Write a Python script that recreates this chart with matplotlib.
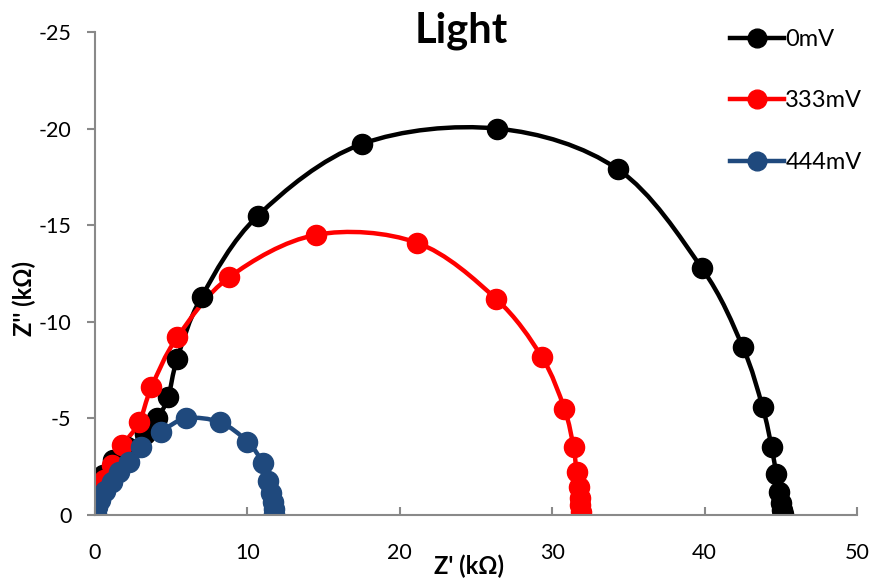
import numpy as np
import matplotlib
matplotlib.use("Agg")
import matplotlib.pyplot as plt
from matplotlib.path import Path
from matplotlib.patches import PathPatch
from matplotlib.lines import Line2D

plt.rcParams['font.family'] = ['Lato', 'DejaVu Sans']
plt.rcParams['axes.unicode_minus'] = False

# Z' (kOhm), Z'' (kOhm)
x_0mV = [0.0, 0.05, 0.2, 0.5, 1.2, 2.1, 3.3, 4.1, 4.8, 5.4, 7.0, 10.7, 17.5, 26.4,
         34.3, 39.8, 42.5, 43.8, 44.4, 44.7, 44.9, 45.0, 45.1, 45.15]
y_0mV = [-0.1, -0.7, -1.45, -2.05, -2.85, -3.5, -4.2, -5.0, -6.1, -8.1, -11.3, -15.5,
         -19.2, -20.0, -17.9, -12.8, -8.7, -5.6, -3.5, -2.1, -1.2, -0.6, -0.25, -0.05]

x_333mV = [0.0, 0.1, 0.3, 0.6, 1.1, 1.8, 2.9, 3.7, 5.4, 8.8, 14.5, 21.1, 26.3, 29.3,
           30.8, 31.4, 31.6, 31.75, 31.8, 31.85, 31.9]
y_333mV = [-0.05, -0.5, -1.1, -1.8, -2.6, -3.6, -4.8, -6.6, -9.2, -12.3, -14.5, -14.1,
           -11.2, -8.2, -5.5, -3.5, -2.2, -1.45, -0.9, -0.5, -0.15]

x_444mV = [0.05, 0.15, 0.35, 0.65, 1.1, 1.6, 2.2, 3.0, 4.3, 6.0, 8.2, 10.0, 11.0,
           11.35, 11.55, 11.65, 11.75, 11.75]
y_444mV = [-0.05, -0.4, -0.8, -1.25, -1.7, -2.2, -2.75, -3.5, -4.3, -5.0, -4.8, -3.8,
           -2.7, -1.75, -1.15, -0.65, -0.3, -0.05]

labels = ['0mV', '333mV', '444mV']
colors = ['#000000', '#FF0000', '#1F497D']
series = [(x_0mV, y_0mV), (x_333mV, y_333mV), (x_444mV, y_444mV)]


def smooth_path(xs, ys, t=1 / 6):
    # Catmull-Rom style bezier through the measured points (like Excel's smoothed line)
    p = np.column_stack([xs, ys])
    verts = [p[0]]
    codes = [Path.MOVETO]
    n = len(p)
    for i in range(n - 1):
        p0 = p[i - 1] if i > 0 else p[i]
        p1, p2 = p[i], p[i + 1]
        p3 = p[i + 2] if i + 2 < n else p[i + 1]
        c1 = p1 + (p2 - p0) * t
        c2 = p2 - (p3 - p1) * t
        verts += [c1, c2, p2]
        codes += [Path.CURVE4] * 3
    return Path(verts, codes)


fig = plt.figure(figsize=(8.78, 5.79), dpi=100)
ax = fig.add_axes([95 / 878, 1 - 515 / 579, (857 - 95) / 878, (515 - 32) / 579])

lw = 3.2
ms = 14.5
for (xs, ys), c in zip(series, colors):
    ax.add_patch(PathPatch(smooth_path(xs, ys), fill=False, edgecolor=c, lw=lw,
                           capstyle='round', joinstyle='round'))
    ax.plot(xs, ys, 'o', color=c, ms=ms, mec=c)

ax.set_xlim(0, 50)
ax.set_ylim(0, -25)
ax.set_xticks([0, 10, 20, 30, 40, 50])
ax.set_yticks([0, -5, -10, -15, -20, -25])

grey = '#898989'
for s in ['top', 'right']:
    ax.spines[s].set_visible(False)
for s in ['left', 'bottom']:
    ax.spines[s].set_color(grey)
    ax.spines[s].set_linewidth(1.5)
ax.tick_params(axis='x', direction='in', length=6, width=1.5, color=grey,
               labelsize=15.5, pad=20)
ax.tick_params(axis='y', direction='out', length=6, width=1.5, color=grey,
               labelsize=15.5, pad=11)

ax.set_title('Light', fontsize=30, fontweight='bold', x=0.48, y=0.96)
fig.text(469 / 878, 1 - 566 / 579, "Z' (kΩ)", fontsize=17, fontweight='bold',
         ha='center', va='center')
fig.text(24 / 878, 1 - 298 / 579, "Z'' (kΩ)", fontsize=17, fontweight='bold',
         ha='center', va='center', rotation=90)

handles = [Line2D([], [], color=c, lw=lw, marker='o', ms=ms - 1) for c in colors]
fig.legend(handles, labels, loc='upper left', bbox_to_anchor=(718 / 878, 1 - 17 / 579),
           frameon=False, fontsize=17, handlelength=2.3, handletextpad=0.05,
           labelspacing=1.72, borderpad=0)

fig.savefig('out.png', dpi=100)
